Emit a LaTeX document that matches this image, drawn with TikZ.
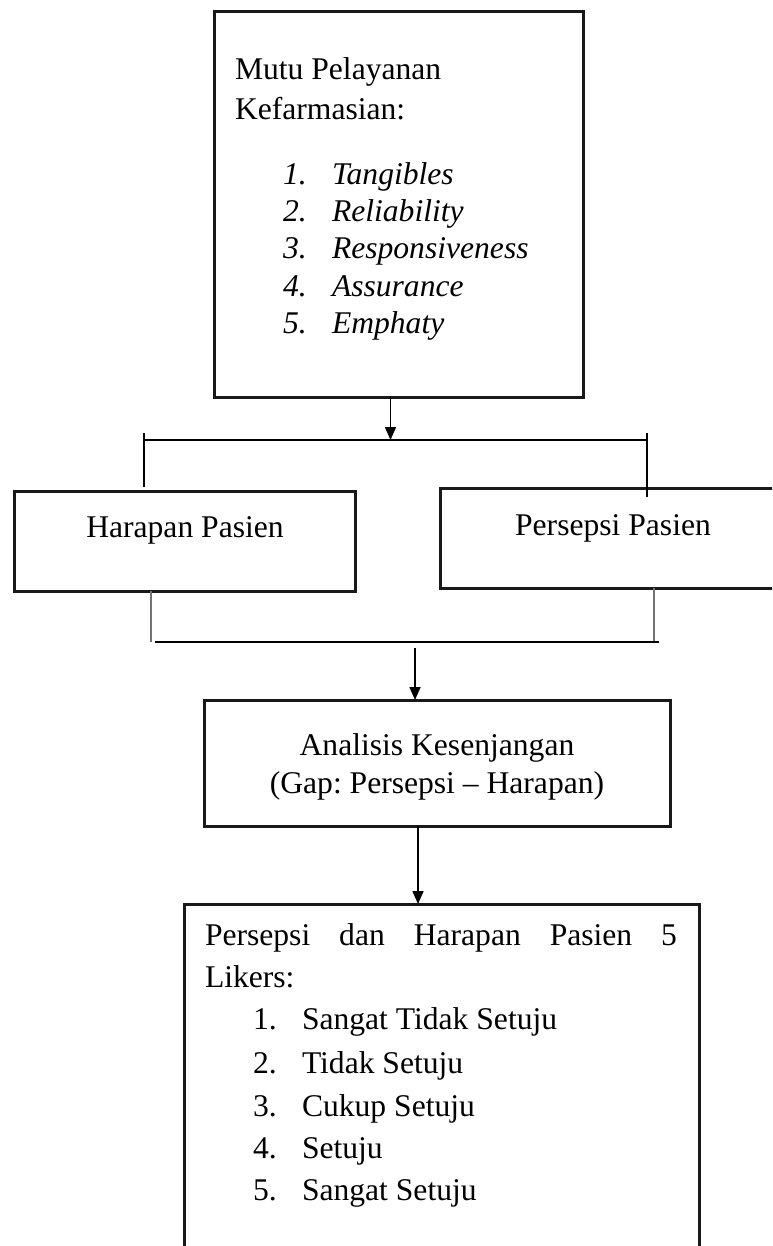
\documentclass[tikz,border=0pt]{standalone}
\usepackage{fontspec}
\setmainfont{Liberation Serif}
\usetikzlibrary{arrows.meta}
\frenchspacing
\begin{document}
\begin{tikzpicture}[x=1pt,y=-1pt,
  box/.style={draw=black!90, line width=3pt, inner sep=0pt, outer sep=0pt},
  conn/.style={draw=black, line width=1.6pt},
  greyconn/.style={draw=black!55, line width=2pt},
  arr/.style={conn, -{Triangle[length=13pt,width=11pt]}},
  txt/.style={inner sep=0pt, outer sep=0pt, anchor=base west, font=\fontsize{31.6}{37}\selectfont\frenchspacing},
  itxt/.style={txt, font=\fontsize{31.6}{37}\selectfont\itshape},
  ctxt/.style={txt, anchor=base}]
\useasboundingbox (0,0) rectangle (772,1246);
\clip (0,0) rectangle (772,1246);

% boxes
\node[box, minimum width=369pt, minimum height=385pt] (mutu) at (398.5,204.5) {};
\node[box, minimum width=341pt, minimum height=100pt] (harapan) at (184.5,541) {};
\node[box, minimum width=360pt, minimum height=100pt] (persepsi) at (620,538) {};
\node[box, minimum width=466pt, minimum height=126pt] (analisis) at (437,763) {};
\node[box, minimum width=515pt, minimum height=376pt] (likert) at (441.5,1092) {};

% texts of the top box
\node[txt] (mutu1) at (235,80) {Mutu Pelayanan};
\node[txt] (mutu2) at (235,120) {Kefarmasian:};
\foreach \n/\w/\yy in {1/Tangibles/185, 2/Reliability/222, 3/Responsiveness/259, 4/Assurance/296, 5/Emphaty/333}{
  \node[itxt] (mn\n) at (283,\yy) {\n.};
  \node[itxt] (mw\n) at (332,\yy) {\w};
}

% middle texts
\node[ctxt] (hartxt) at (185,537) {Harapan Pasien};
\node[ctxt] (pertxt) at (613,535) {Persepsi Pasien};
\node[ctxt] (ana1) at (437,755) {Analisis Kesenjangan};
\node[ctxt] (ana2) at (437,793) {(Gap: Persepsi \textendash{} Harapan)};

% bottom box texts
\node[txt] (lk1) at (205,945) {\makebox[472pt][s]{Persepsi dan Harapan Pasien 5}};
\node[txt] (lk2) at (205,987) {Likers:};
\foreach \n/\w/\yy in {1/Sangat Tidak Setuju/1029, 2/Tidak Setuju/1073, 3/Cukup Setuju/1116, 4/Setuju/1158, 5/Sangat Setuju/1200}{
  \node[txt] (ln\n) at (253,\yy) {\n.};
  \node[txt] (lw\n) at (302,\yy) {\w};
}

% connectors
\coordinate (jt) at (390.5,440);
\coordinate (tl) at (144,440);
\coordinate (tr) at (647,440);
\draw[arr] (mutu.south -| jt) -- (jt);
\draw[conn] (tl) -- (tr);
\draw[conn] ([yshift=7pt]tl) -- ([yshift=4pt]tl |- harapan.north);
\draw[conn] ([yshift=7pt]tr) -- ([yshift=-9pt]tr |- persepsi.north);

\coordinate (bl) at (151,642);
\coordinate (br) at (654,642);
\draw[greyconn] (harapan.south -| bl) -- (bl);
\draw[greyconn] (persepsi.south -| br) -- (br);
\draw[conn] ([xshift=4pt]bl) -- ([xshift=5pt]br);

\coordinate (ja) at (415,648);
\draw[arr] (ja) -- (ja |- analisis.north);
\coordinate (jb) at (418,826);
\draw[arr] (jb) -- (jb |- likert.north);
\end{tikzpicture}
\end{document}
